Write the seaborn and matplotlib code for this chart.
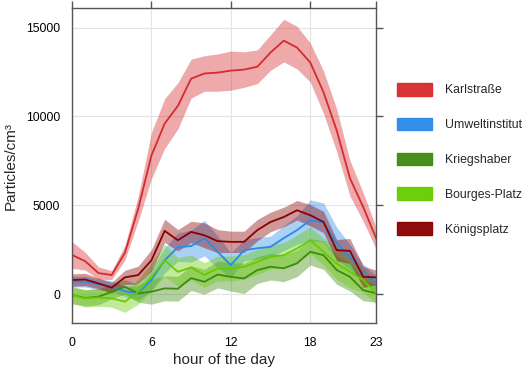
import numpy as np
import pandas as pd
import seaborn as sns
import matplotlib.pyplot as plt
from matplotlib.patches import Patch

hours = list(range(24))
stations = ["Karlstraße", "Umweltinstitut", "Kriegshaber", "Bourges-Platz", "Königsplatz"]
colors = ["#d62a2e", "#2a8ae8", "#3e8a0e", "#66cc00", "#8b0000"]

karl = [2200, 1850, 1180, 1070, 2330, 4800, 7800, 9600, 10600, 12130, 12420, 12470,
        12580, 12640, 12800, 13600, 14270, 13880, 13040, 11370, 9210, 6520, 4900, 3100]
karl_err = [750, 500, 350, 250, 400, 700, 1300, 1400, 1300, 1100, 1000, 1050,
            1100, 1000, 950, 1000, 1200, 1200, 1100, 1200, 1200, 1000, 800, 600]

umwelt = [700, 700, 550, 450, 150, 50, 800, 1900, 2640, 2700, 3150, 2380,
          1630, 2470, 2580, 2660, 3150, 3600, 4160, 4030, 2860, 2100, 1180, 620]
umwelt_err = [300, 300, 300, 300, 300, 400, 600, 700, 800, 900, 1000, 900,
              700, 600, 600, 600, 700, 800, 1150, 1100, 900, 700, 500, 400]

krieg = [-60, -220, -150, 130, 410, 40, 130, 320, 300, 900, 690, 1100,
         970, 880, 1350, 1540, 1450, 1730, 2380, 2190, 1350, 970, 220, 40]
krieg_err = [500, 450, 450, 400, 400, 500, 700, 700, 700, 700, 700, 750,
             800, 850, 750, 750, 750, 750, 750, 800, 800, 800, 600, 500]

bourges = [-60, -240, -190, -240, -430, 130, 970, 1900, 1250, 1500, 1070, 1440,
           1440, 1530, 1810, 2100, 2190, 2570, 3030, 2380, 1720, 1250, 790, 40]
bourges_err = [400, 500, 500, 500, 600, 700, 800, 900, 800, 700, 700, 700,
               700, 700, 700, 700, 700, 750, 750, 750, 900, 900, 700, 600]

koenig = [790, 820, 600, 360, 940, 1070, 1900, 3560, 3030, 3500, 3310, 2980,
          2940, 2940, 3600, 4060, 4340, 4720, 4440, 4060, 2470, 2430, 970, 940]
koenig_err = [350, 350, 300, 300, 400, 500, 600, 650, 600, 600, 700, 650,
              600, 600, 600, 550, 550, 550, 600, 600, 600, 700, 600, 400]

means = [karl, umwelt, krieg, bourges, koenig]
errs = [karl_err, umwelt_err, krieg_err, bourges_err, koenig_err]

df = pd.concat([
    pd.DataFrame({"hour": hours, "value": m, "err": e, "station": s})
    for s, m, e in zip(stations, means, errs)
])

sns.set_style("white")
plt.rcParams["font.family"] = ["Liberation Sans", "DejaVu Sans"]

fig = plt.figure(figsize=(5.24, 3.70), dpi=100)
ax = fig.add_axes([0.1374, 0.127, 0.581, 0.851])

for s, c in zip(stations, colors):
    d = df[df["station"] == s]
    ax.fill_between(d["hour"], d["value"] - d["err"], d["value"] + d["err"],
                    color=c, alpha=0.4, linewidth=0)
    sns.lineplot(data=d, x="hour", y="value", color=c, linewidth=1.3, ax=ax, legend=False)

ax.set_xlim(0, 23)
ax.set_ylim(-1630, 16100)
ax.set_xticks([0, 6, 12, 18, 23])
ax.set_yticks([0, 5000, 10000, 15000])
ax.grid(True, color="#e3e3e3", linewidth=0.8)
ax.set_axisbelow(True)
for sp in ax.spines.values():
    sp.set_color("#555555")
    sp.set_linewidth(1.0)
ax.tick_params(axis="both", direction="out", length=5, width=1, color="#555555",
               labelsize=8.8, labelcolor="black", top=True, right=True,
               labeltop=False, labelright=False)
ax.tick_params(axis="x", pad=5)
ax.set_xlabel("hour of the day", fontsize=11, labelpad=3)
ax.set_ylabel("Particles/cm³", fontsize=11, labelpad=6)

handles = [Patch(facecolor=c, edgecolor=c, alpha=0.95) for c in colors]
fig.legend(handles, stations, loc="upper left", bbox_to_anchor=(0.748, 0.79),
           frameon=False, fontsize=8.8, handlelength=2.9, handleheight=1.25,
           labelspacing=1.75, handletextpad=1.0, borderaxespad=0)

fig.savefig("out.png", dpi=100)
